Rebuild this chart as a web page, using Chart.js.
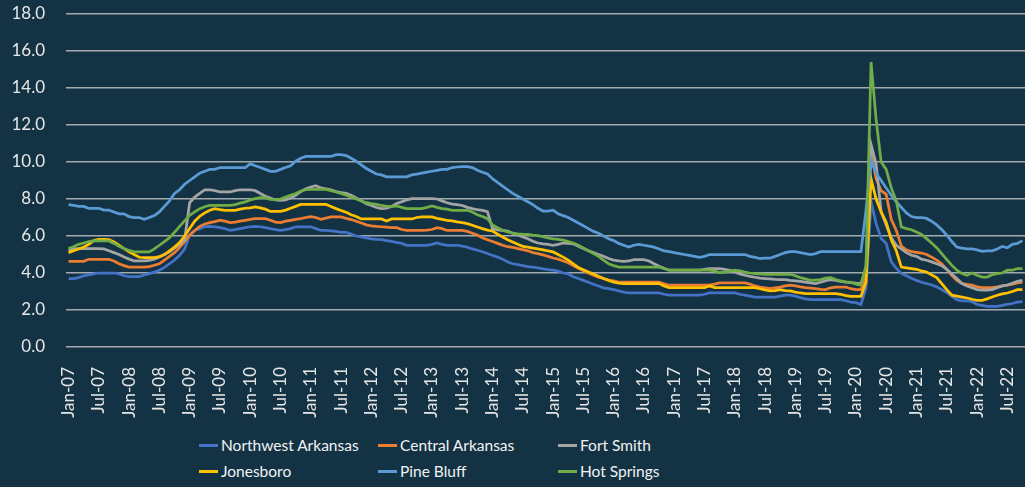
<!DOCTYPE html>
<html>
<head>
<meta charset="utf-8">
<script src="https://cdn.jsdelivr.net/npm/chart.js@4.4.1/dist/chart.umd.min.js"></script>
<style>
  html, body { margin: 0; padding: 0; background: #133345; }
  #wrap { position: relative; width: 1025px; height: 487px; background: #133345; overflow: hidden; }
  #chart-box { position: absolute; left: 0; top: 0; width: 1025px; height: 430px; }
  #legend {
    position: absolute; left: 199px; top: 432px;
    display: grid; grid-template-columns: 179px 180px 180px; grid-auto-rows: 26px;
    font-family: Lato, sans-serif; font-size: 15.5px; color: #f2f2f2;
  }
  #legend .item { display: flex; align-items: center; white-space: nowrap; }
  #legend .swatch { width: 19px; height: 3px; margin-right: 3px; }
</style>
</head>
<body>
<div id="wrap">
  <div id="chart-box"><canvas id="chart" width="1025" height="430"></canvas></div>
  <div id="legend"></div>
</div>
<script>
// month categories Jan-07 .. Oct-22
const monthNames = ['Jan', 'Feb', 'Mar', 'Apr', 'May', 'Jun', 'Jul', 'Aug', 'Sep', 'Oct', 'Nov', 'Dec'];
const months = [];
for (let y = 7; y <= 22; y++) {
    for (let m = 0; m < 12; m++) {
        if (y === 22 && m > 9) break;
        months.push(monthNames[m] + '-' + String(y).padStart(2, '0'));
    }
}

const tickLabels = ['Jan-07', 'Jul-07', 'Jan-08', 'Jul-08', 'Jan-09', 'Jul-09', 'Jan-10', 'Jul-10',
    'Jan-11', 'Jul-11', 'Jan-12', 'Jul-12', 'Jan-13', 'Jul-13', 'Jan-14', 'Jul-14', 'Jan-15', 'Jul-15',
    'Jan-16', 'Jul-16', 'Jan-17', 'Jul-17', 'Jan-18', 'Jul-18', 'Jan-19', 'Jul-19', 'Jan-20', 'Jul-20',
    'Jan-21', 'Jul-21', 'Jan-22', 'Jul-22'];

const yTicks = [0, 2, 4, 6, 8, 10, 12, 14, 16, 18];

// unemployment rate, %, one row per year
const northwestArkansas = [
    3.7, 3.7, 3.75, 3.85, 3.9, 3.95, 4.0, 4.0, 4.0, 4.0, 3.95, 3.85,
    3.8, 3.8, 3.8, 3.9, 3.97, 4.05, 4.15, 4.3, 4.5, 4.7, 4.96, 5.3,
    6.05, 6.3, 6.4, 6.5, 6.52, 6.5, 6.45, 6.4, 6.3, 6.35, 6.4, 6.45,
    6.5, 6.52, 6.5, 6.45, 6.4, 6.35, 6.3, 6.35, 6.4, 6.5, 6.5, 6.5,
    6.5, 6.4, 6.3, 6.3, 6.28, 6.25, 6.2, 6.2, 6.1, 6.0, 5.95, 5.9,
    5.85, 5.82, 5.8, 5.75, 5.71, 5.65, 5.6, 5.5, 5.5, 5.5, 5.5, 5.5,
    5.55, 5.62, 5.55, 5.5, 5.5, 5.5, 5.45, 5.4, 5.3, 5.23, 5.15, 5.05,
    4.95, 4.86, 4.75, 4.6, 4.5, 4.45, 4.4, 4.35, 4.32, 4.28, 4.22, 4.18,
    4.15, 4.1, 4.0, 3.95, 3.8, 3.7, 3.6, 3.5, 3.39, 3.3, 3.2, 3.15,
    3.1, 3.03, 2.97, 2.92, 2.92, 2.92, 2.92, 2.92, 2.92, 2.92, 2.85, 2.8,
    2.8, 2.8, 2.8, 2.8, 2.8, 2.8, 2.85, 2.92, 2.92, 2.92, 2.92, 2.92,
    2.92, 2.85, 2.8, 2.75, 2.7, 2.7, 2.7, 2.7, 2.7, 2.75, 2.8, 2.8,
    2.75, 2.67, 2.6, 2.56, 2.56, 2.56, 2.56, 2.56, 2.56, 2.56, 2.5, 2.43,
    2.4, 2.3, 3.2, 7.84, 6.67, 5.86, 5.59, 4.6, 4.25, 3.98, 3.85, 3.72,
    3.6, 3.5, 3.43, 3.35, 3.25, 3.1, 2.95, 2.75, 2.56, 2.5, 2.5, 2.45,
    2.3, 2.25, 2.2, 2.2, 2.2, 2.25, 2.3, 2.35, 2.43, 2.45
];

const centralArkansas = [
    4.63, 4.63, 4.63, 4.63, 4.74, 4.74, 4.74, 4.74, 4.74, 4.65, 4.5, 4.4,
    4.32, 4.32, 4.32, 4.32, 4.35, 4.42, 4.5, 4.7, 4.9, 5.1, 5.37, 5.7,
    6.04, 6.3, 6.52, 6.65, 6.72, 6.78, 6.85, 6.8, 6.72, 6.75, 6.8, 6.85,
    6.9, 6.94, 6.94, 6.94, 6.85, 6.75, 6.72, 6.8, 6.85, 6.9, 6.94, 7.0,
    7.05, 7.0, 6.9, 6.97, 7.03, 7.03, 7.03, 6.95, 6.89, 6.8, 6.7, 6.6,
    6.55, 6.52, 6.5, 6.48, 6.45, 6.45, 6.35, 6.3, 6.3, 6.3, 6.3, 6.32,
    6.35, 6.45, 6.4, 6.3, 6.3, 6.3, 6.3, 6.25, 6.15, 6.05, 5.9, 5.8,
    5.7, 5.6, 5.5, 5.42, 5.38, 5.32, 5.26, 5.2, 5.1, 5.05, 4.98, 4.9,
    4.81, 4.75, 4.65, 4.55, 4.4, 4.25, 4.12, 4.0, 3.88, 3.78, 3.7, 3.62,
    3.57, 3.51, 3.51, 3.51, 3.51, 3.51, 3.51, 3.51, 3.51, 3.51, 3.42, 3.34,
    3.34, 3.34, 3.34, 3.34, 3.34, 3.34, 3.34, 3.34, 3.4, 3.46, 3.46, 3.46,
    3.46, 3.46, 3.46, 3.4, 3.3, 3.24, 3.2, 3.15, 3.2, 3.24, 3.3, 3.34,
    3.3, 3.25, 3.21, 3.18, 3.15, 3.12, 3.1, 3.2, 3.24, 3.24, 3.24, 3.15,
    3.1, 3.1, 3.8, 10.5, 9.1, 8.45, 8.25, 6.9, 6.3, 5.45, 5.25, 5.15,
    5.12, 5.08, 5.0, 4.86, 4.7, 4.5, 4.2, 3.88, 3.6, 3.43, 3.38, 3.34,
    3.25, 3.21, 3.21, 3.21, 3.25, 3.3, 3.34, 3.4, 3.46, 3.5
];

const fortSmith = [
    5.23, 5.3, 5.32, 5.32, 5.32, 5.32, 5.32, 5.3, 5.2, 5.1, 5.0, 4.86,
    4.75, 4.65, 4.65, 4.65, 4.68, 4.75, 4.86, 5.0, 5.15, 5.35, 5.55, 5.8,
    7.8, 8.1, 8.3, 8.5, 8.5, 8.45, 8.38, 8.38, 8.38, 8.45, 8.5, 8.5,
    8.5, 8.45, 8.3, 8.15, 8.05, 7.95, 7.93, 7.95, 8.05, 8.2, 8.4, 8.55,
    8.65, 8.72, 8.6, 8.55, 8.5, 8.4, 8.35, 8.3, 8.2, 8.05, 7.9, 7.75,
    7.65, 7.54, 7.48, 7.5, 7.6, 7.75, 7.85, 7.95, 8.02, 8.02, 8.02, 8.02,
    8.02, 8.0, 7.9, 7.8, 7.72, 7.7, 7.65, 7.55, 7.48, 7.42, 7.38, 7.32,
    6.4, 6.33, 6.3, 6.27, 6.15, 6.05, 5.95, 5.85, 5.72, 5.62, 5.58, 5.55,
    5.5, 5.55, 5.62, 5.6, 5.58, 5.45, 5.32, 5.2, 5.1, 5.0, 4.9, 4.78,
    4.7, 4.65, 4.63, 4.65, 4.72, 4.72, 4.72, 4.65, 4.5, 4.36, 4.25, 4.15,
    4.15, 4.15, 4.15, 4.15, 4.15, 4.15, 4.2, 4.24, 4.24, 4.24, 4.2, 4.15,
    4.05, 3.95, 3.88, 3.82, 3.77, 3.72, 3.7, 3.68, 3.65, 3.64, 3.64, 3.6,
    3.58, 3.55, 3.51, 3.47, 3.43, 3.5, 3.58, 3.64, 3.6, 3.55, 3.51, 3.48,
    3.45, 3.43, 4.3, 10.95, 9.9, 7.3, 6.6, 5.9, 5.5, 5.3, 5.1, 4.96,
    4.9, 4.75, 4.69, 4.6, 4.5, 4.4, 4.2, 3.95, 3.7, 3.43, 3.3, 3.2,
    3.1, 3.07, 3.07, 3.1, 3.2, 3.3, 3.35, 3.45, 3.55, 3.6
];

const jonesboro = [
    5.1, 5.2, 5.3, 5.4, 5.55, 5.75, 5.82, 5.82, 5.8, 5.68, 5.5, 5.32,
    5.15, 5.0, 4.85, 4.83, 4.83, 4.83, 4.88, 5.0, 5.2, 5.4, 5.65, 6.0,
    6.4, 6.8, 7.07, 7.25, 7.39, 7.48, 7.42, 7.39, 7.39, 7.39, 7.45, 7.5,
    7.52, 7.57, 7.52, 7.45, 7.33, 7.33, 7.33, 7.4, 7.5, 7.6, 7.71, 7.71,
    7.71, 7.71, 7.71, 7.71, 7.6, 7.48, 7.38, 7.28, 7.15, 7.05, 6.92, 6.92,
    6.92, 6.92, 6.92, 6.81, 6.92, 6.92, 6.92, 6.92, 6.92, 7.0, 7.03, 7.03,
    7.03, 6.95, 6.9, 6.85, 6.82, 6.76, 6.72, 6.67, 6.58, 6.49, 6.4, 6.32,
    6.27, 6.1, 5.95, 5.8, 5.68, 5.55, 5.44, 5.4, 5.35, 5.3, 5.25, 5.2,
    5.14, 5.0, 4.86, 4.7, 4.5, 4.3, 4.18, 4.05, 3.95, 3.82, 3.7, 3.6,
    3.5, 3.45, 3.43, 3.43, 3.43, 3.43, 3.43, 3.43, 3.43, 3.43, 3.3, 3.21,
    3.21, 3.21, 3.21, 3.21, 3.21, 3.21, 3.21, 3.3, 3.21, 3.21, 3.21, 3.21,
    3.21, 3.21, 3.21, 3.21, 3.21, 3.15, 3.08, 3.03, 3.05, 3.1, 3.05, 3.03,
    2.97, 2.92, 2.89, 2.89, 2.89, 2.89, 2.89, 2.89, 2.89, 2.85, 2.78, 2.74,
    2.74, 2.74, 3.5, 9.1, 8.0, 7.3, 6.75, 5.8, 5.2, 4.32, 4.28, 4.24,
    4.2, 4.11, 4.05, 3.9, 3.75, 3.43, 3.1, 2.8, 2.75, 2.7, 2.65, 2.58,
    2.52, 2.52, 2.6, 2.7, 2.8, 2.87, 2.92, 3.0, 3.1, 3.1
];

const pineBluff = [
    7.7, 7.65, 7.6, 7.6, 7.5, 7.5, 7.5, 7.4, 7.4, 7.3, 7.2, 7.2,
    7.05, 7.0, 7.0, 6.9, 7.0, 7.1, 7.3, 7.6, 7.9, 8.3, 8.5, 8.8,
    9.0, 9.2, 9.4, 9.5, 9.6, 9.6, 9.7, 9.7, 9.7, 9.7, 9.7, 9.7,
    9.9, 9.8, 9.7, 9.6, 9.5, 9.5, 9.6, 9.7, 9.8, 10.05, 10.2, 10.3,
    10.3, 10.3, 10.3, 10.3, 10.3, 10.4, 10.4, 10.35, 10.2, 10.05, 9.85, 9.65,
    9.5, 9.35, 9.3, 9.2, 9.2, 9.2, 9.2, 9.2, 9.3, 9.35, 9.4, 9.45,
    9.5, 9.55, 9.6, 9.6, 9.7, 9.73, 9.75, 9.75, 9.7, 9.55, 9.45, 9.35,
    9.1, 8.9, 8.7, 8.5, 8.3, 8.15, 8.0, 7.85, 7.7, 7.5, 7.35, 7.35,
    7.4, 7.2, 7.1, 7.0, 6.85, 6.7, 6.55, 6.4, 6.25, 6.15, 6.0, 5.85,
    5.75, 5.6, 5.5, 5.4, 5.5, 5.55, 5.5, 5.45, 5.4, 5.3, 5.2, 5.15,
    5.1, 5.05, 5.0, 4.95, 4.9, 4.85, 4.9, 5.0, 5.0, 5.0, 5.0, 5.0,
    5.0, 5.0, 5.0, 4.9, 4.85, 4.78, 4.8, 4.8, 4.9, 5.0, 5.1, 5.15,
    5.15, 5.1, 5.05, 5.0, 5.05, 5.15, 5.15, 5.15, 5.15, 5.15, 5.15, 5.15,
    5.15, 5.15, 7.4, 10.1, 9.4, 9.0, 8.6, 8.2, 7.85, 7.55, 7.25, 7.05,
    7.0, 7.0, 6.95, 6.8, 6.6, 6.35, 6.05, 5.7, 5.4, 5.35, 5.3, 5.3,
    5.25, 5.17, 5.2, 5.2, 5.3, 5.44, 5.36, 5.55, 5.6, 5.75
];

const hotSprings = [
    5.32, 5.42, 5.55, 5.62, 5.7, 5.73, 5.73, 5.73, 5.73, 5.6, 5.45, 5.32,
    5.22, 5.14, 5.14, 5.14, 5.14, 5.3, 5.5, 5.7, 5.91, 6.2, 6.52, 6.82,
    7.12, 7.3, 7.48, 7.58, 7.66, 7.66, 7.66, 7.66, 7.66, 7.7, 7.78, 7.84,
    7.95, 8.02, 8.07, 8.07, 7.98, 7.96, 8.0, 8.1, 8.2, 8.3, 8.43, 8.5,
    8.52, 8.52, 8.52, 8.52, 8.45, 8.38, 8.3, 8.2, 8.1, 8.0, 7.89, 7.8,
    7.75, 7.71, 7.65, 7.6, 7.6, 7.62, 7.55, 7.48, 7.48, 7.48, 7.48, 7.55,
    7.62, 7.55, 7.48, 7.45, 7.39, 7.39, 7.39, 7.39, 7.3, 7.15, 7.05, 6.94,
    6.6, 6.45, 6.31, 6.22, 6.15, 6.12, 6.1, 6.09, 6.05, 6.02, 5.96, 5.9,
    5.85, 5.82, 5.78, 5.7, 5.62, 5.5, 5.35, 5.2, 5.05, 4.9, 4.7, 4.5,
    4.4, 4.32, 4.32, 4.32, 4.32, 4.32, 4.32, 4.32, 4.32, 4.32, 4.25, 4.15,
    4.15, 4.15, 4.15, 4.15, 4.15, 4.15, 4.15, 4.15, 4.1, 4.02, 4.05, 4.1,
    4.15, 4.12, 4.05, 4.0, 3.97, 3.95, 3.93, 3.93, 3.93, 3.93, 3.93, 3.93,
    3.85, 3.75, 3.68, 3.6, 3.62, 3.64, 3.72, 3.75, 3.65, 3.57, 3.52, 3.5,
    3.4, 3.34, 4.4, 15.4, 12.3, 10.0, 9.6, 8.6, 7.9, 6.49, 6.4, 6.34,
    6.22, 6.09, 5.86, 5.62, 5.37, 5.05, 4.72, 4.42, 4.15, 3.97, 3.88, 4.0,
    3.88, 3.78, 3.78, 3.91, 3.97, 4.0, 4.15, 4.15, 4.24, 4.24
];

const seriesNames = ['Northwest Arkansas', 'Central Arkansas', 'Fort Smith', 'Jonesboro', 'Pine Bluff', 'Hot Springs'];
const seriesData = [northwestArkansas, centralArkansas, fortSmith, jonesboro, pineBluff, hotSprings];
const seriesColors = ['#4472c4', '#ed7d31', '#a5a5a5', '#ffc000', '#5b9bd5', '#70ad47'];

const textColor = '#e6e6e6';
const font = { family: 'Lato', size: 17 };

const datasets = seriesNames.map((name, i) => ({
    label: name,
    data: seriesData[i],
    borderColor: seriesColors[i],
    backgroundColor: seriesColors[i],
    borderWidth: 2.75,
    pointRadius: 0,
    tension: 0,
    fill: false,
    // later series drawn on top, like the original
    order: seriesNames.length - i
}));

new Chart(document.querySelector('#chart').getContext('2d'), {
    type: 'line',
    data: { labels: months, datasets: datasets },
    options: {
        responsive: false,
        animation: false,
        devicePixelRatio: 1,
        layout: { padding: { top: 14, right: 0, left: 0, bottom: 0 } },
        plugins: {
            legend: { display: false },
            tooltip: { enabled: false }
        },
        scales: {
            x: {
                offset: true,
                grid: { display: false },
                border: { display: false },
                ticks: {
                    autoSkip: false,
                    maxRotation: 90,
                    minRotation: 90,
                    padding: 12,
                    color: textColor,
                    font: font,
                    callback: function (val, idx) {
                        const lbl = months[idx];
                        return tickLabels.includes(lbl) ? lbl : null;
                    }
                },
                afterFit: (scale) => {
                    scale.height = 83;
                    scale.paddingLeft = 0;
                    scale.paddingRight = 0;
                }
            },
            y: {
                min: 0,
                max: 18,
                afterBuildTicks: (scale) => { scale.ticks = yTicks.map(v => ({ value: v })); },
                grid: { color: '#a3abb0', lineWidth: 1.5, drawTicks: false },
                border: { display: false },
                ticks: {
                    padding: 21,
                    color: textColor,
                    font: font,
                    callback: (v) => v.toFixed(1)
                },
                afterFit: (scale) => {
                    scale.width = 66;
                    scale.paddingTop = 0;
                    scale.paddingBottom = 0;
                }
            }
        }
    }
});

// legend in three columns, two rows
const legend = document.querySelector('#legend');
seriesNames.forEach((name, i) => {
    const item = document.createElement('div');
    item.className = 'item';
    item.innerHTML = '<span class="swatch" style="background:' + seriesColors[i] + '"></span><span>' + name + '</span>';
    legend.appendChild(item);
});
</script>
</body>
</html>
